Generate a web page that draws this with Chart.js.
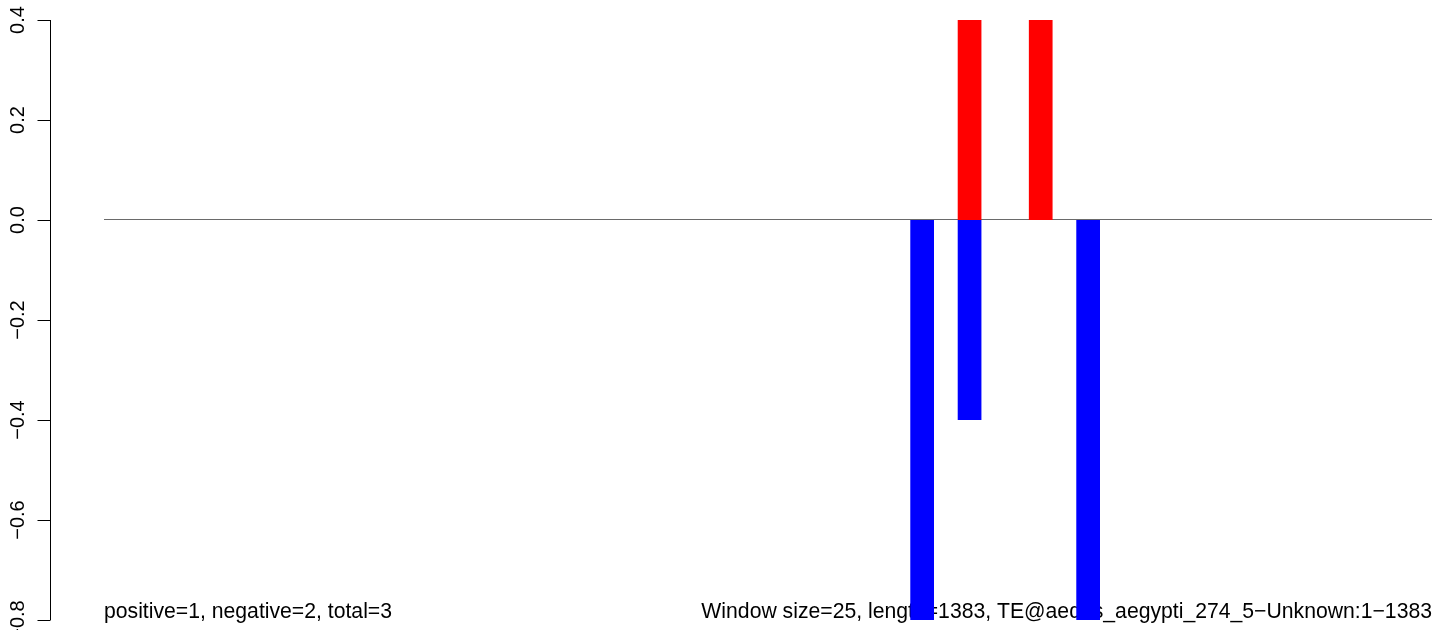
<!DOCTYPE html>
<html>
<head>
<meta charset="utf-8">
<script src="https://cdn.jsdelivr.net/npm/chart.js@4/dist/chart.umd.min.js"></script>
<style>
  html, body { margin: 0; padding: 0; background: #fff; }
  canvas { display: block; }
</style>
</head>
<body>
<canvas id="chart" width="1444" height="630"></canvas>
<script>
// Windows of 25 bp along a 1383 bp element (56 windows)
const windowLabels = [
  1, 2, 3, 4, 5, 6, 7, 8, 9, 10, 11, 12, 13, 14, 15, 16, 17, 18, 19, 20,
  21, 22, 23, 24, 25, 26, 27, 28, 29, 30, 31, 32, 33, 34, 35, 36, 37, 38, 39, 40,
  41, 42, 43, 44, 45, 46, 47, 48, 49, 50, 51, 52, 53, 54, 55, 56
];

const positiveValues = [
  0, 0, 0, 0, 0, 0, 0, 0, 0, 0, 0, 0, 0, 0, 0, 0, 0, 0, 0, 0,
  0, 0, 0, 0, 0, 0, 0, 0, 0, 0, 0, 0, 0, 0, 0, 0, 0.4, 0, 0, 0.4,
  0, 0, 0, 0, 0, 0, 0, 0, 0, 0, 0, 0, 0, 0, 0, 0
];

const negativeValues = [
  0, 0, 0, 0, 0, 0, 0, 0, 0, 0, 0, 0, 0, 0, 0, 0, 0, 0, 0, 0,
  0, 0, 0, 0, 0, 0, 0, 0, 0, 0, 0, 0, 0, 0, -0.8, 0, -0.4, 0, 0, 0,
  0, -0.8, 0, 0, 0, 0, 0, 0, 0, 0, 0, 0, 0, 0, 0, 0
];

const yTicks = [0.4, 0.2, 0.0, -0.2, -0.4, -0.6, -0.8];
const yTickLabels = ['0.4', '0.2', '0.0', '\u22120.2', '\u22120.4', '\u22120.6', '\u22120.8'];

const leftNote = 'positive=1, negative=2, total=3';
const rightNote = 'Window size=25, length=1383, TE@aedes_aegypti_274_5\u2212Unknown:1\u22121383';

const FONT = '"Liberation Sans", Arial, Helvetica, sans-serif';

// R-style decorations: zero line, notes under the bars, left axis
const rDecor = {
  id: 'rDecor',
  beforeDraw(chart) {
    const ctx = chart.ctx;
    ctx.save();
    ctx.fillStyle = '#fff';
    ctx.fillRect(0, 0, chart.width, chart.height);
    ctx.restore();
  },
  beforeDatasetsDraw(chart) {
    const { ctx, chartArea } = chart;
    const y = chart.scales.y;
    const zeroY = Math.round(y.getPixelForValue(0)) - 0.5;

    ctx.save();
    ctx.strokeStyle = '#6a6a6a';
    ctx.lineWidth = 1;
    ctx.beginPath();
    ctx.moveTo(chartArea.left, zeroY);
    ctx.lineTo(chartArea.right, zeroY);
    ctx.stroke();

    ctx.fillStyle = '#000';
    ctx.font = '21.2px ' + FONT;
    ctx.textBaseline = 'alphabetic';
    ctx.textAlign = 'left';
    ctx.fillText(leftNote, chartArea.left, 618);
    ctx.textAlign = 'right';
    ctx.fillText(rightNote, chartArea.right, 618);
    ctx.restore();
  },
  afterDraw(chart) {
    const ctx = chart.ctx;
    const y = chart.scales.y;
    const axisX = 50.5;
    const top = y.getPixelForValue(yTicks[0]);
    const bottom = y.getPixelForValue(yTicks[yTicks.length - 1]);

    ctx.save();
    ctx.strokeStyle = '#000';
    ctx.lineWidth = 1;
    ctx.beginPath();
    ctx.moveTo(axisX, top);
    ctx.lineTo(axisX, bottom);
    yTicks.forEach(v => {
      const py = Math.round(y.getPixelForValue(v)) + 0.5;
      ctx.moveTo(axisX, py);
      ctx.lineTo(axisX - 13, py);
    });
    ctx.stroke();

    ctx.fillStyle = '#000';
    ctx.font = '20px ' + FONT;
    ctx.textAlign = 'center';
    ctx.textBaseline = 'alphabetic';
    yTicks.forEach((v, i) => {
      const py = y.getPixelForValue(v);
      ctx.save();
      ctx.translate(24, py);
      ctx.rotate(-Math.PI / 2);
      ctx.fillText(yTickLabels[i], 0, 0);
      ctx.restore();
    });
    ctx.restore();
  }
};

new Chart(document.getElementById('chart').getContext('2d'), {
  type: 'bar',
  data: {
    labels: windowLabels,
    datasets: [
      {
        label: 'positive',
        data: positiveValues,
        backgroundColor: '#ff0000',
        borderWidth: 0,
        inflateAmount: 0,
        barPercentage: 1,
        categoryPercentage: 1
      },
      {
        label: 'negative',
        data: negativeValues,
        backgroundColor: '#0000ff',
        borderWidth: 0,
        inflateAmount: 0,
        barPercentage: 1,
        categoryPercentage: 1
      }
    ]
  },
  options: {
    responsive: false,
    animation: false,
    layout: { padding: { left: 104, right: 12, top: 20, bottom: 10 } },
    plugins: {
      legend: { display: false },
      tooltip: { enabled: false }
    },
    scales: {
      x: { display: false, stacked: true },
      y: { display: false, stacked: true, min: -0.8, max: 0.4 }
    }
  },
  plugins: [rDecor]
});
</script>
</body>
</html>
